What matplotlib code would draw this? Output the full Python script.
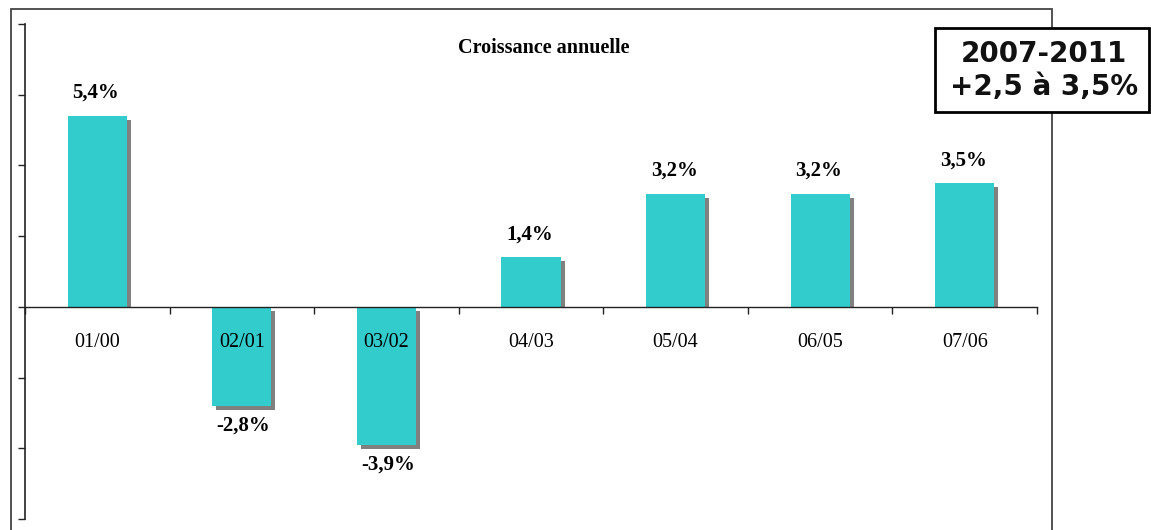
import matplotlib
matplotlib.use("Agg")
import matplotlib.pyplot as plt
import matplotlib.transforms as mtransforms
from matplotlib.patches import Rectangle
import numpy as np

# data
periods = ["01/00", "02/01", "03/02", "04/03", "05/04", "06/05", "07/06"]
growth = [5.4, -2.8, -3.9, 1.4, 3.2, 3.2, 3.5]
value_labels = ["5,4%", "-2,8%", "-3,9%", "1,4%", "3,2%", "3,2%", "3,5%"]
title = "Croissance annuelle"
box_lines = ["2007-2011", "+2,5 à 3,5%"]

W, H, DPI = 1151, 530, 100
fig = plt.figure(figsize=(W / DPI, H / DPI), dpi=DPI)
serif = ["Liberation Serif", "DejaVu Serif"]

# outer frame (left, top, right; bottom runs off the image)
fig.patches.append(Rectangle((11 / W, -0.05), (1052 - 11) / W, 1.05 - 9 / H,
                             transform=fig.transFigure, fill=False,
                             edgecolor="#444444", linewidth=1.3, zorder=0))

ax = fig.add_axes([25 / W, 11 / H, 1012 / W, 495 / H])
ax.set_xlim(-0.5, len(periods) - 0.5)
ax.set_ylim(-6, 8)
ax.patch.set_alpha(0)

x = np.arange(len(periods))
width = 0.41
bar_color = "#33CCCC"
shadow_color = "#808080"

# shadow: 4 px right, 4 px down
px_per_unit = 495 / 14.0
dy = 4 / px_per_unit
shadow_tr = mtransforms.offset_copy(ax.transData, fig=fig, x=4, y=0, units="dots")
g = np.array(growth)
sh_bottom = np.where(g > 0, 0, -dy)
sh_height = np.where(g > 0, g - dy, g)
ax.bar(x, sh_height, width, bottom=sh_bottom, color=shadow_color,
       transform=shadow_tr, zorder=1)
ax.bar(x, growth, width, color=bar_color, zorder=1.5)

for xi, v, lab in zip(x, growth, value_labels):
    if v > 0:
        ax.annotate(lab, (xi, v), xytext=(-1, 16.5), textcoords="offset points",
                    ha="center", va="center", fontsize=15, fontweight="bold",
                    family=serif)
    else:
        ax.annotate(lab, (xi, v), xytext=(1, -14.5), textcoords="offset points",
                    ha="center", va="center", fontsize=15, fontweight="bold",
                    family=serif)

# axes styling
for s in ["top", "right"]:
    ax.spines[s].set_visible(False)
ax.spines["bottom"].set_position(("data", 0))
ax.spines["left"].set_color("#222222")
ax.spines["bottom"].set_color("#222222")
ax.spines["left"].set_linewidth(1.2)
ax.spines["bottom"].set_linewidth(1.0)

ax.set_yticks(np.arange(-6, 9, 2))
ax.set_yticklabels([])
ax.tick_params(axis="y", direction="out", length=5, width=1.0, color="#222222")

ax.set_xticks(x)
ax.set_xticklabels(periods, family=serif, fontsize=14.5)
ax.set_xticks(np.arange(-0.5, len(periods), 1), minor=True)
ax.tick_params(axis="x", which="major", length=0, pad=19)
ax.tick_params(axis="x", which="minor", direction="out", length=5, width=1.0,
               color="#222222")

fig.text(544 / W, 1 - 48 / H, title, ha="center", va="center",
         fontsize=14.5, fontweight="bold", family=serif)

# highlight box
fig.patches.append(Rectangle((935 / W, 1 - 112 / H), 214 / W, 84 / H,
                             transform=fig.transFigure, facecolor="white",
                             edgecolor="black", linewidth=2, zorder=5))
for line, yc in zip(box_lines, [54, 87]):
    fig.text(1044 / W, 1 - yc / H, line, ha="center", va="center",
             fontsize=20, fontweight="bold", family=["DejaVu Sans"],
             color="#111111", zorder=6)

fig.savefig("out.png", dpi=DPI)
